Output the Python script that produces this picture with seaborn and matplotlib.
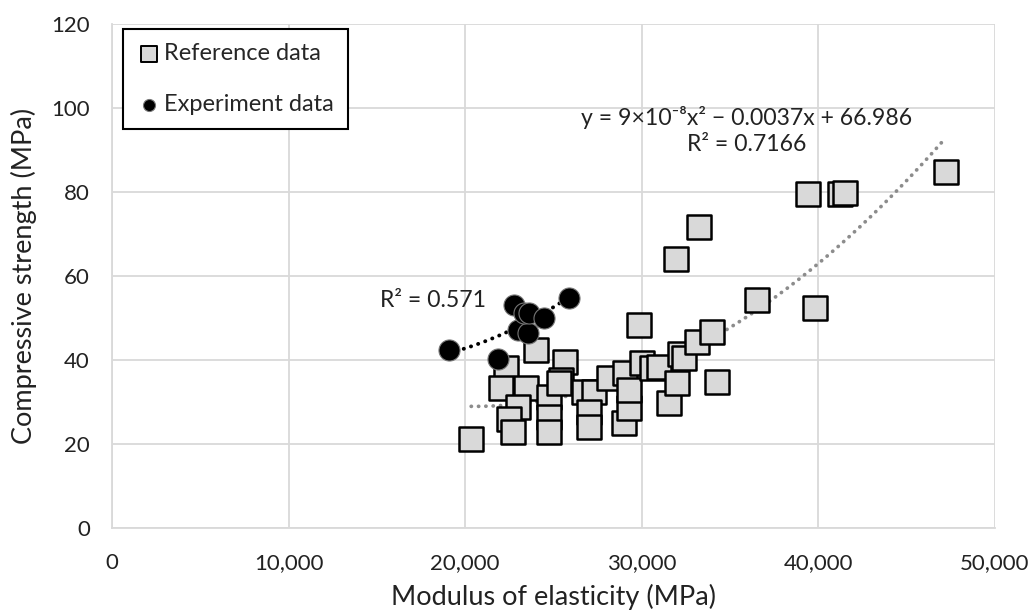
import numpy as np
import pandas as pd
import matplotlib
matplotlib.use("Agg")
import matplotlib.pyplot as plt
import seaborn as sns
from matplotlib.ticker import FuncFormatter

# Reference data (modulus MPa, compressive strength MPa)
ref_x = [20340, 22330, 22045, 23466, 23000, 22500, 22727, 24030, 24770, 24770,
         24770, 25625, 25450, 25300, 26700, 27270, 26990, 26990, 28125, 29000,
         29300, 29030, 29300, 29830, 30000, 30570, 30970, 31530, 32000, 32160,
         32400, 33125, 33980, 34260, 31930, 33240, 36500, 39830, 39430, 41250,
         41480, 47200]
ref_y = [21.2, 38.0, 33.3, 33.3, 28.8, 26.0, 22.9, 42.4, 31.2, 26.4,
         22.9, 39.5, 35.2, 34.5, 32.4, 32.4, 27.6, 24.0, 35.7, 25.0,
         28.6, 36.9, 32.9, 48.3, 39.3, 38.0, 38.3, 29.8, 34.6, 41.5,
         40.5, 44.2, 46.6, 34.8, 64.0, 71.7, 54.4, 52.4, 79.5, 79.5,
         79.8, 84.8]

# Experiment data
exp_x = [19090, 21870, 23010, 23580, 22780, 23350, 23640, 24490, 25900]
exp_y = [42.4, 40.2, 47.1, 46.4, 53.0, 51.2, 51.2, 50.0, 54.8]

# Trendline coefficients for reference data (from chart label)
ref_coef = [9e-8, -0.0037, 66.986]

series_names = ["Reference data", "Experiment data"]
x_ticks = [0, 10000, 20000, 30000, 40000, 50000]
y_ticks = [0, 20, 40, 60, 80, 100, 120]

sns.set_theme(style="white")
plt.rcParams['font.family'] = ['Lato', 'DejaVu Sans']

fig = plt.figure(figsize=(10.3, 6.15), dpi=100)
ax = fig.add_axes([112/1030, 1 - 528/615, (995-112)/1030, (528-24)/615])

ref_df = pd.DataFrame({"x": ref_x, "y": ref_y})
exp_df = pd.DataFrame({"x": exp_x, "y": exp_y})

# trend lines
xr = np.linspace(min(ref_x), max(ref_x), 200)
ref_trend = pd.DataFrame({"x": xr, "y": np.polyval(ref_coef, xr)})
exp_coef = np.polyfit(exp_x, exp_y, 2)
xe = np.linspace(min(exp_x), max(exp_x), 100)
exp_trend = pd.DataFrame({"x": xe, "y": np.polyval(exp_coef, xe)})

sns.lineplot(data=ref_trend, x="x", y="y", ax=ax, color="#8c8c8c", lw=2.7,
             linestyle=(0, (0.05, 1.9)), dash_capstyle="round", zorder=2)

sns.scatterplot(data=ref_df, x="x", y="y", ax=ax, marker="s", s=290,
                color="#d9d9d9", edgecolor="black", linewidth=1.8, zorder=3,
                label=series_names[0])
sns.lineplot(data=exp_trend, x="x", y="y", ax=ax, color="black", lw=2.8,
             linestyle=(0, (0.05, 1.9)), dash_capstyle="round", zorder=4)
sns.scatterplot(data=exp_df, x="x", y="y", ax=ax, marker="o", s=230,
                color="black", edgecolor="#777777", linewidth=0.8, zorder=5,
                label=series_names[1])

ax.set_xlim(0, 50000)
ax.set_ylim(0, 120)
ax.set_xticks(x_ticks)
ax.set_yticks(y_ticks)
ax.xaxis.set_major_formatter(FuncFormatter(lambda v, p: f"{int(v):,}"))
ax.grid(True, color="#d9d9d9", lw=1.3)
ax.set_axisbelow(True)
for s in ["top", "right"]:
    ax.spines[s].set_visible(False)
for s in ["left", "bottom"]:
    ax.spines[s].set_color("#d9d9d9")
    ax.spines[s].set_linewidth(1.3)
ax.tick_params(axis="both", labelsize=16, length=0, colors="#222222")
ax.tick_params(axis="x", pad=18)
ax.tick_params(axis="y", pad=16)
ax.set_xlabel("Modulus of elasticity (MPa)", fontsize=19.5, labelpad=8, color="#222222")
ax.set_ylabel("Compressive strength (MPa)", fontsize=19.5, labelpad=10, color="#222222")

ax.text(0.719, 0.815, "y = 9×10⁻⁸x² − 0.0037x + 66.986", transform=ax.transAxes,
        ha="center", va="center", fontsize=16.6, color="#222222")
ax.text(0.719, 0.76, "R² = 0.7166", transform=ax.transAxes,
        ha="center", va="center", fontsize=16.6, color="#222222")
ax.text(0.423, 0.452, "R² = 0.571", transform=ax.transAxes,
        ha="right", va="center", fontsize=16.6, color="#222222")

leg = ax.legend(loc="upper left", bbox_to_anchor=(0.012, 0.99), frameon=True,
                fancybox=False, edgecolor="black", fontsize=17, labelspacing=1.25,
                handletextpad=0.15, borderpad=0.6, handlelength=1.0,
                borderaxespad=0.0)
leg.get_frame().set_linewidth(1.5)
leg.get_frame().set_alpha(1)
hs = leg.legend_handles
hs[0].set_sizes([125])
hs[0].set_linewidth(1.4)
hs[1].set_sizes([75])

fig.savefig("out.png", dpi=100)
